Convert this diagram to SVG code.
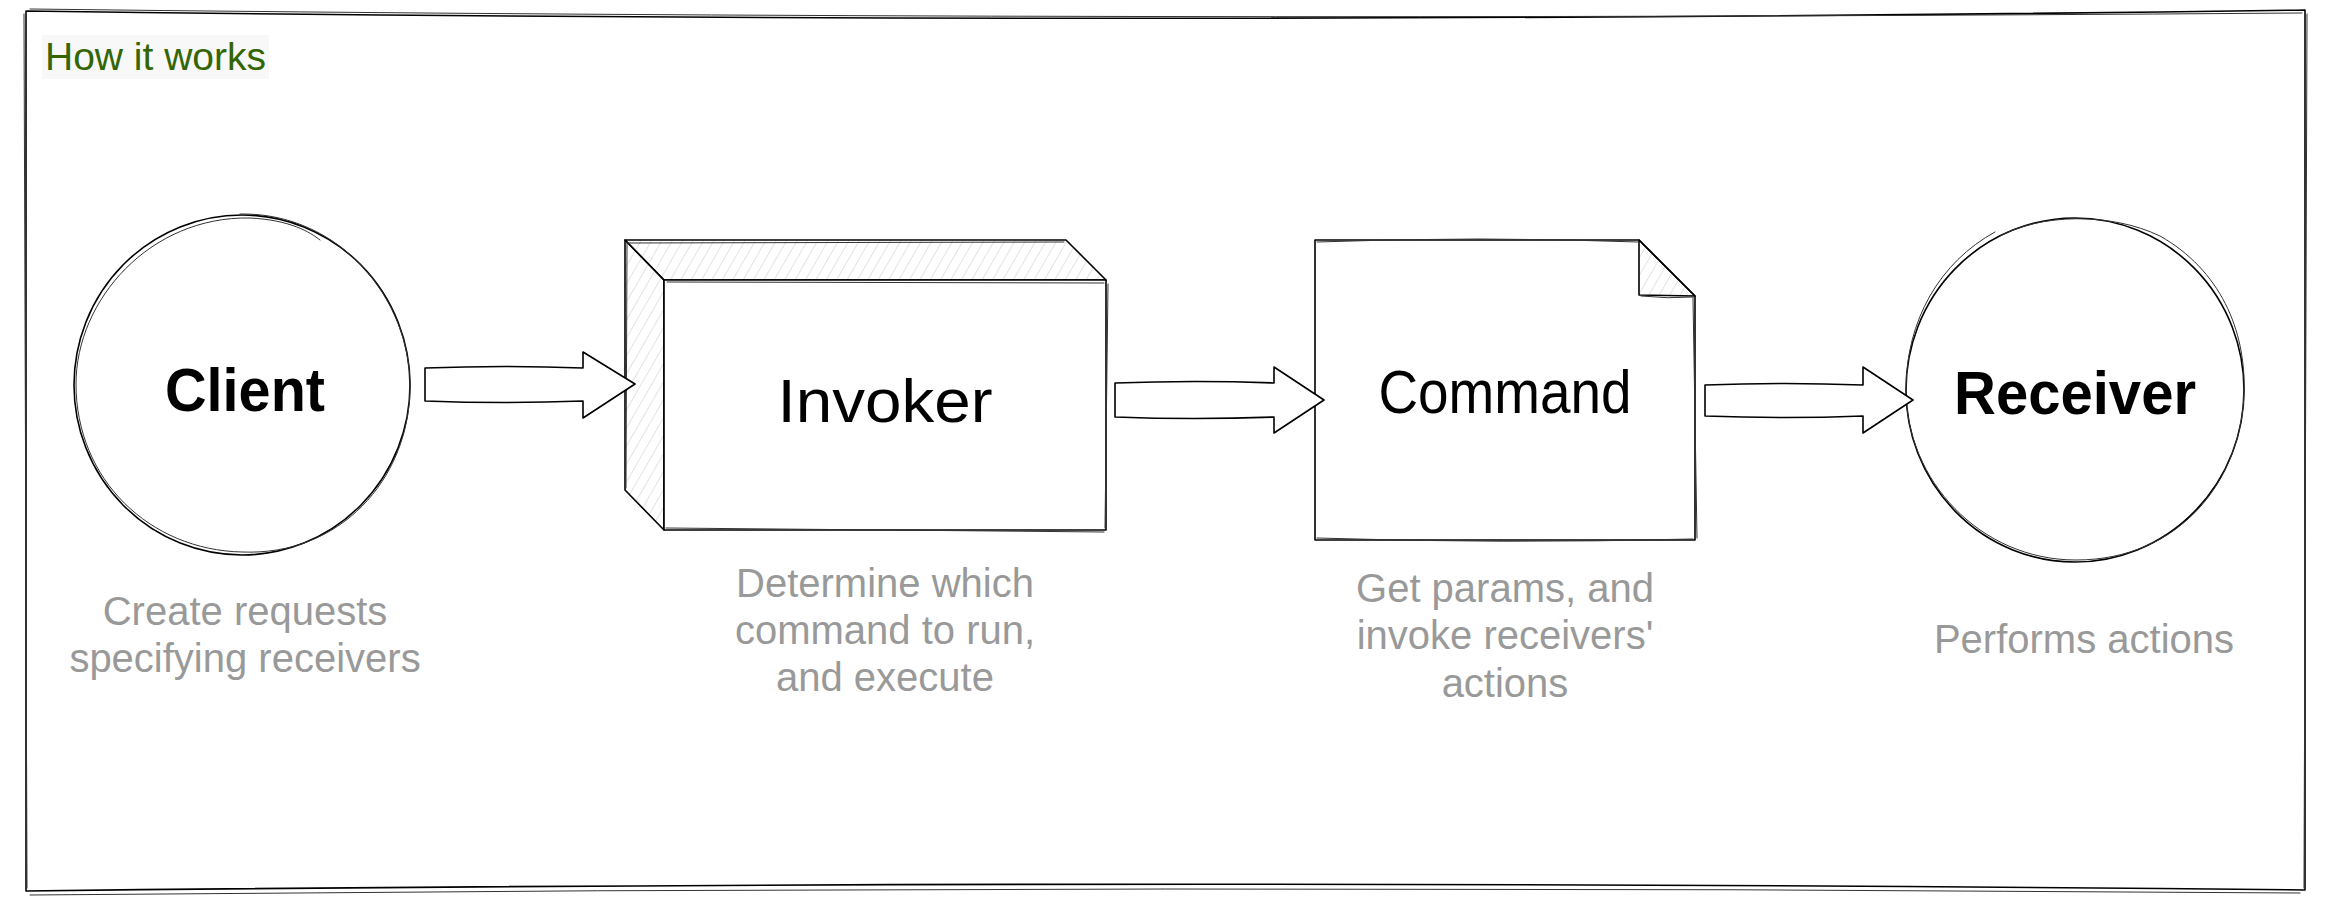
<svg xmlns="http://www.w3.org/2000/svg" width="2332" height="900" viewBox="0 0 2332 900">
  <defs>
    <pattern id="hatch" patternUnits="userSpaceOnUse" width="9" height="9" patternTransform="rotate(30)">
      <line x1="0" y1="0" x2="0" y2="9" stroke="#c8c8c8" stroke-width="1"/>
    </pattern>
    <style>
      .sk { fill: none; stroke: #000; stroke-width: 1.6; stroke-linejoin: round; stroke-linecap: round; }
      .sk2 { fill: none; stroke: #333; stroke-width: 1; stroke-linejoin: round; stroke-linecap: round; }
      .wf { fill: #fff; stroke: #000; stroke-width: 1.6; stroke-linejoin: round; }
      .hf { fill: url(#hatch); stroke: #000; stroke-width: 1.6; stroke-linejoin: round; }
      .lbl { font-family: "Comic Sans MS", "Liberation Sans", "DejaVu Sans", sans-serif; font-size: 62px; fill: #000; text-anchor: middle; }
      .bold { font-weight: bold; }
      .desc { font-family: "Liberation Sans", Arial, sans-serif; font-size: 40px; fill: #999999; text-anchor: middle; }
      .title { font-family: "Liberation Sans", Arial, sans-serif; font-size: 39px; fill: #336600; }
    </style>
  </defs>
  <rect x="0" y="0" width="2332" height="900" fill="#ffffff"/>

  <g id="frame">
    <path class="sk" d="M26,11 Q1166,26 2305,10 L2305,890 Q1166,878 26,891 Z"/>
    <path class="sk2" d="M30,9 Q1100,22 2302,13 M2307,14 L2304,888 M2300,893 Q1166,884 30,895 M24,14 L27,888"/>
    <rect x="42" y="35" width="227" height="44" fill="#f8f8f8"/>
    <text class="title" x="45" y="70">How it works</text>
  </g>

  <g id="client">
    <ellipse class="wf" cx="242" cy="385" rx="168" ry="170"/>
    <path class="sk2" d="M240,214 C340,212 412,300 410,390 C408,480 340,556 242,552 C150,550 76,480 76,384 C76,300 150,216 250,218 C290,220 310,232 320,240"/>
    <text class="lbl bold" x="245" y="411" font-size="64" textLength="160" lengthAdjust="spacingAndGlyphs">Client</text>
    <text class="desc" x="245" y="625">Create requests</text>
    <text class="desc" x="245" y="672">specifying receivers</text>
  </g>

  <g id="invoker">
    <polygon class="hf" points="625,240 1066,240 1106,280 664,280"/>
    <polygon class="hf" points="625,240 664,280 664,530 625,490"/>
    <rect class="wf" x="664" y="280" width="442" height="250"/>
    <path class="sk2" d="M626,243 L1064,242 M667,282 L1104,283 M666,528 L1104,532 M1108,284 L1105,528 M627,244 L626,488"/>
    <text class="lbl" x="885" y="422" textLength="215" lengthAdjust="spacingAndGlyphs">Invoker</text>
    <text class="desc" x="885" y="597">Determine which</text>
    <text class="desc" x="885" y="644">command to run,</text>
    <text class="desc" x="885" y="691">and execute</text>
  </g>

  <g id="command">
    <path class="wf" d="M1315,240 L1639,240 L1695,296 L1695,540 L1315,540 Z"/>
    <path class="hf" d="M1639,240 L1639,295 L1695,296 Z"/>
    <path class="sk2" d="M1317,242 Q1480,236 1638,242 M1693,298 L1697,538 M1317,538 Q1500,544 1693,539 M1641,296 Q1668,299 1694,297"/>
    <text class="lbl" x="1505" y="413" textLength="253" lengthAdjust="spacingAndGlyphs">Command</text>
    <text class="desc" x="1505" y="602">Get params, and</text>
    <text class="desc" x="1505" y="649">invoke receivers'</text>
    <text class="desc" x="1505" y="697">actions</text>
  </g>

  <g id="receiver">
    <ellipse class="wf" cx="2075" cy="390" rx="169" ry="172"/>
    <path class="sk2" d="M2000,236 C2040,214 2110,212 2160,236 C2220,270 2246,330 2244,392 C2242,480 2180,560 2076,560 C1980,560 1906,480 1906,390 C1906,320 1940,262 1995,232"/>
    <text class="lbl bold" x="2075" y="414" textLength="242" lengthAdjust="spacingAndGlyphs">Receiver</text>
    <text class="desc" x="2084" y="653">Performs actions</text>
  </g>

  <g id="connectors">
    <path class="wf" d="M425,368 Q505,365 583,368 L583,352 L635,384 L583,418 L583,401 Q505,404 425,401 Z"/>
    <path class="wf" d="M1115,383 Q1195,380 1274,383 L1274,367 L1324,400 L1274,433 L1274,417 Q1195,420 1115,417 Z"/>
    <path class="wf" d="M1705,385 Q1785,382 1863,385 L1863,367 L1913,400 L1863,433 L1863,416 Q1785,419 1705,416 Z"/>
  </g>
</svg>
